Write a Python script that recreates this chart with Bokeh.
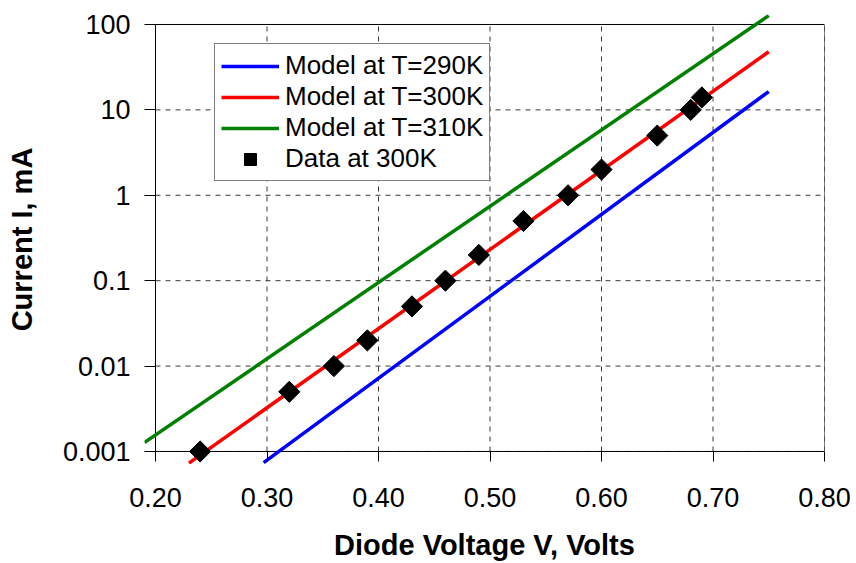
from bokeh.plotting import figure
from bokeh.models import Range1d, FixedTicker, CustomJSTickFormatter
from bokeh.embed import file_html
from bokeh.resources import INLINE

# ---- data ----
x_ticks = [0.20, 0.30, 0.40, 0.50, 0.60, 0.70, 0.80]
x_tick_labels = ["0.20", "0.30", "0.40", "0.50", "0.60", "0.70", "0.80"]
y_ticks = [0.001, 0.01, 0.1, 1, 10, 100]
y_tick_labels = ["0.001", "0.01", "0.1", "1", "10", "100"]

v_290 = [0.297, 0.75]
i_290 = [0.00074, 16.4]
v_300 = [0.23, 0.75]
i_300 = [0.00073, 48.0]
v_310 = [0.19, 0.75]
i_310 = [0.00127, 127.0]

v_data = [0.24, 0.32, 0.36, 0.39, 0.43, 0.46, 0.49, 0.53, 0.57, 0.60, 0.65, 0.68, 0.69]
i_data = [0.001, 0.005, 0.01, 0.02, 0.05, 0.1, 0.2, 0.5, 1, 2, 5, 10, 14]

FONT = "Liberation Sans"

p = figure(width=856, height=563, y_axis_type="log",
           x_range=Range1d(0.19013, 0.80), y_range=Range1d(0.000704, 130.9),
           output_backend="svg", toolbar_location=None,
           min_border_left=144, min_border_right=32, min_border_top=14, min_border_bottom=99)
p.outline_line_color = None
p.xgrid.visible = False
p.ygrid.visible = False
p.background_fill_color = "white"
p.border_fill_color = "white"

# dashed grid inside the plot box
n_x = len(x_ticks)
n_y = len(y_ticks)
p.segment(x0=x_ticks, y0=[y_ticks[0]] * n_x, x1=x_ticks, y1=[y_ticks[-1]] * n_x,
          line_color="#3a3a3a", line_width=1, line_dash="5 5")
p.segment(x0=[x_ticks[0]] * n_y, y0=y_ticks, x1=[x_ticks[-1]] * n_y, y1=y_ticks,
          line_color="#3a3a3a", line_width=1, line_dash="5 5")
# plot box
p.quad(left=[x_ticks[0]], right=[x_ticks[-1]], bottom=[y_ticks[0]], top=[y_ticks[-1]],
       fill_color=None, line_color="black", line_width=1)

p.line(v_290, i_290, line_color="#0000FF", line_width=3.5, legend_label="Model at T=290K")
p.line(v_300, i_300, line_color="#FF0000", line_width=3.5, legend_label="Model at T=300K")
p.line(v_310, i_310, line_color="#008000", line_width=3.5, legend_label="Model at T=310K")
p.scatter(v_data, i_data, marker="square", size=15, angle=0.7854,
          fill_color="black", line_color="black", legend_label="Data at 300K")

fmt_code = """
let best = 0; let bd = Infinity;
for (let i = 0; i < tvals.length; i++) {
  const d = LOGMODE ? Math.abs(Math.log10(tick) - Math.log10(tvals[i])) : Math.abs(tick - tvals[i]);
  if (d < bd) { bd = d; best = i; }
}
return tlabels[best];
"""

xa = p.xaxis[0]
xa.ticker = FixedTicker(ticks=x_ticks, minor_ticks=[])
xa.formatter = CustomJSTickFormatter(args=dict(tvals=x_ticks, tlabels=x_tick_labels),
                                     code=fmt_code.replace("LOGMODE", "false"))
xa.axis_line_color = None
xa.major_tick_in = 13
xa.major_tick_out = -3
xa.major_tick_line_color = "black"
xa.minor_tick_line_color = None
xa.major_label_standoff = 23
xa.major_label_text_font = FONT
xa.major_label_text_font_size = "27px"
xa.major_label_text_color = "black"
xa.axis_label = "Diode Voltage V, Volts"
xa.axis_label_text_font = FONT
xa.axis_label_text_font_size = "29px"
xa.axis_label_text_font_style = "bold"
xa.axis_label_text_color = "black"
xa.axis_label_standoff = 19

ya = p.yaxis[0]
ya.ticker = FixedTicker(ticks=y_ticks, minor_ticks=[])
ya.formatter = CustomJSTickFormatter(args=dict(tvals=y_ticks, tlabels=y_tick_labels),
                                     code=fmt_code.replace("LOGMODE", "true"))
ya.axis_line_color = None
ya.major_tick_in = 11
ya.major_tick_out = 0
ya.major_tick_line_color = "black"
ya.minor_tick_line_color = None
ya.major_label_standoff = 14
ya.major_label_text_font = FONT
ya.major_label_text_font_size = "27px"
ya.major_label_text_color = "black"
ya.axis_label = "Current I, mA"
ya.axis_label_text_font = FONT
ya.axis_label_text_font_size = "29px"
ya.axis_label_text_font_style = "bold"
ya.axis_label_text_color = "black"
ya.axis_label_standoff = 22

lg = p.legend[0]
lg.location = (70, 283)
lg.border_line_color = "black"
lg.border_line_width = 1
lg.background_fill_color = "white"
lg.background_fill_alpha = 1
lg.label_text_font = FONT
lg.label_text_font_size = "26px"
lg.label_text_color = "black"
lg.glyph_width = 58
lg.glyph_height = 30
lg.label_height = 30
lg.label_standoff = 6
lg.spacing = 0
lg.padding = 6
lg.margin = 0

open("out.html", "w").write(file_html(p, INLINE))
